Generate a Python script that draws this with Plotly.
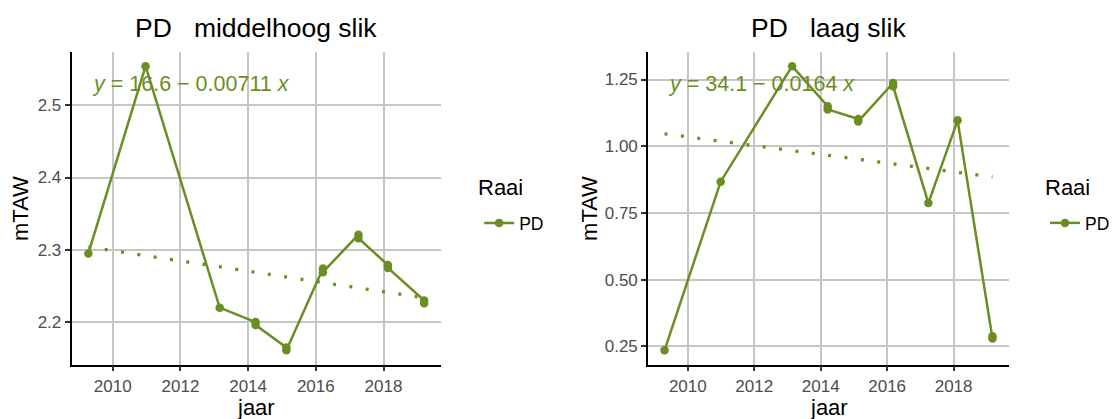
import plotly.graph_objects as go

GREEN = "#6b8e23"
FONT = "Liberation Sans, Arial, sans-serif"
W, H = 1115, 419

# --- data: PD middelhoog slik ---
jaar_mh = [2009.28, 2010.97, 2013.16, 2014.22, 2014.22, 2015.13, 2015.13,
           2016.21, 2016.21, 2017.26, 2017.26, 2018.13, 2018.13, 2019.20, 2019.20]
taw_mh = [2.295, 2.554, 2.220, 2.200, 2.196, 2.165, 2.161,
          2.274, 2.269, 2.321, 2.316, 2.279, 2.275, 2.230, 2.226]
trend_jaar_mh = [2009.28, 2019.20]
trend_taw_mh = [2.304, 2.2335]
eq_mh = "<i>y</i> = 16.6 \u2212 0.00711 <i>x</i>"

# --- data: PD laag slik ---
jaar_ls = [2009.30, 2010.99, 2013.14, 2014.21, 2014.21, 2015.13, 2015.13,
           2016.18, 2016.18, 2017.24, 2018.12, 2019.17, 2019.17]
taw_ls = [0.235, 0.867, 1.300, 1.150, 1.138, 1.102, 1.093,
          1.237, 1.225, 0.787, 1.097, 0.288, 0.279]
trend_jaar_ls = [2009.30, 2019.17]
trend_taw_ls = [1.0465, 0.885]
eq_ls = "<i>y</i> = 34.1 \u2212 0.0164 <i>x</i>"

titles = ["PD\u00a0\u00a0\u00a0middelhoog slik", "PD\u00a0\u00a0\u00a0laag slik"]


def expand(vals, frac=0.05):
    lo, hi = min(vals), max(vals)
    pad = (hi - lo) * frac
    return [lo - pad, hi + pad]


fig = go.Figure()

panels = [
    (jaar_mh, taw_mh, trend_jaar_mh, trend_taw_mh, "x", "y", "legend"),
    (jaar_ls, taw_ls, trend_jaar_ls, trend_taw_ls, "x2", "y2", "legend2"),
]
for jaar, taw, tj, tt, xr, yr, lg in panels:
    fig.add_trace(go.Scatter(
        x=tj, y=tt, mode="lines", xaxis=xr, yaxis=yr,
        line=dict(color=GREEN, width=3.3, dash="3px,13.5px"),
        showlegend=False, hoverinfo="skip",
    ))
    fig.add_trace(go.Scatter(
        x=jaar, y=taw, mode="lines+markers", name="PD", xaxis=xr, yaxis=yr,
        line=dict(color=GREEN, width=2.5),
        marker=dict(color=GREEN, size=8.5),
        legend=lg,
    ))

# panel geometry in pixels (plot area)
x_dom = [[71.7 / W, 441.7 / W], [649.3 / W, 1010.7 / W]]
y_dom = [1 - 364.5 / H, 1 - 52 / H]

axis_common = dict(
    showgrid=True, gridcolor="#c6c6c6", gridwidth=1.5,
    showline=True, linecolor="black", linewidth=1.8,
    ticks="outside", ticklen=5, tickwidth=1.5, tickcolor="#333333",
    tickfont=dict(size=17, color="#4d4d4d", family=FONT),
    zeroline=False,
)

legend_common = dict(
    xanchor="left", y=1 - 223 / H, yanchor="middle",
    font=dict(size=17.5, color="black"), bgcolor="rgba(0,0,0,0)",
)

fig.update_layout(
    xaxis=dict(domain=x_dom[0], range=expand(jaar_mh), anchor="y",
               tick0=2010, dtick=2, **axis_common),
    yaxis=dict(domain=y_dom, range=expand(taw_mh), anchor="x",
               tick0=2.2, dtick=0.1, tickformat=".1f", **axis_common),
    xaxis2=dict(domain=x_dom[1], range=expand(jaar_ls), anchor="y2",
                tick0=2010, dtick=2, **axis_common),
    yaxis2=dict(domain=y_dom, range=expand(taw_ls), anchor="x2",
                tick0=0.25, dtick=0.25, tickformat=".2f", **axis_common),
    legend=dict(x=480 / W, **legend_common),
    legend2=dict(x=1047 / W, **legend_common),
    width=W, height=H,
    margin=dict(l=0, r=0, t=0, b=0),
    paper_bgcolor="white", plot_bgcolor="white",
    font=dict(family=FONT, color="black"),
)

text_pos = [
    # (subplot centre x, mTAW x, legend title x)
    (sum(x_dom[0]) / 2 * W, 20, 477),
    (sum(x_dom[1]) / 2 * W, 590, 1045),
]
for i, (title, eq) in enumerate(zip(titles, [eq_mh, eq_ls])):
    xr = "x" if i == 0 else "x2"
    yr = "y" if i == 0 else "y2"
    cx, ytx, lgx = text_pos[i]
    fig.add_annotation(
        text=title, xref="paper", yref="paper",
        x=cx / W, y=1 - 28 / H, xanchor="center", yanchor="middle",
        showarrow=False, font=dict(size=26.5, color="black", family=FONT),
    )
    fig.add_annotation(
        text=eq, xref=f"{xr} domain", yref=f"{yr} domain",
        x=0.05, y=0.898, xanchor="left", yanchor="middle",
        showarrow=False, font=dict(size=21.5, color=GREEN, family=FONT),
    )
    # axis titles
    fig.add_annotation(
        text="jaar", xref="paper", yref="paper",
        x=cx / W, y=1 - 407 / H, xanchor="center", yanchor="middle",
        showarrow=False, font=dict(size=22, color="black", family=FONT),
    )
    fig.add_annotation(
        text="mTAW", xref="paper", yref="paper", textangle=-90,
        x=ytx / W, y=1 - 208 / H, xanchor="center", yanchor="middle",
        showarrow=False, font=dict(size=22, color="black", family=FONT),
    )
    # legend title
    fig.add_annotation(
        text="Raai", xref="paper", yref="paper",
        x=lgx / W, y=1 - 187 / H, xanchor="left", yanchor="middle",
        showarrow=False, font=dict(size=22, color="black", family=FONT),
    )

fig.write_html("out.html", config={"displayModeBar": False},
               post_script="document.body.style.margin='0';")
